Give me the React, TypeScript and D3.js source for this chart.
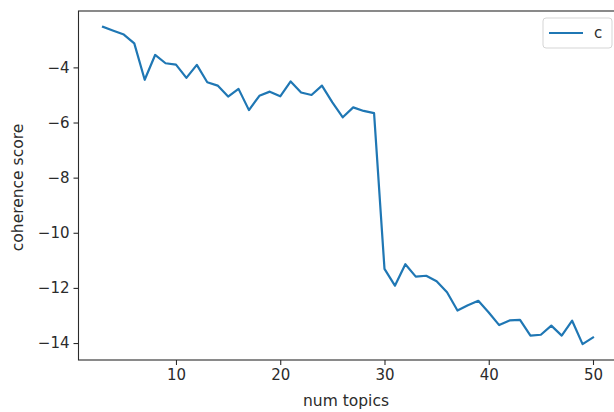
import React, { useRef, useEffect } from "react";
import * as d3 from "d3";

// number of topics tried
const numTopics: number[] = [
  3, 4, 5, 6, 7, 8, 9, 10, 11, 12, 13, 14, 15, 16, 17, 18, 19, 20, 21, 22, 23, 24, 25, 26,
  27, 28, 29, 30, 31, 32, 33, 34, 35, 36, 37, 38, 39, 40, 41, 42, 43, 44, 45, 46, 47, 48, 49, 50,
];

// coherence score for each run
const coherence: number[] = [
  -2.53, -2.67, -2.81, -3.13, -4.45, -3.55, -3.85, -3.9, -4.38, -3.91, -4.54, -4.66, -5.06,
  -4.78, -5.55, -5.03, -4.88, -5.05, -4.51, -4.91, -5.0, -4.66, -5.27, -5.81, -5.45, -5.58,
  -5.66, -11.31, -11.92, -11.14, -11.59, -11.56, -11.76, -12.16, -12.82, -12.63, -12.47,
  -12.89, -13.35, -13.18, -13.16, -13.73, -13.7, -13.37, -13.73, -13.19, -14.04, -13.8,
];

const xTicks = [10, 20, 30, 40, 50];
const yTicks = [-4, -6, -8, -10, -12, -14];
const legendLabel = "c";

const Chart = ({ width, height }: { width: number; height: number }) => {
  const svgRef = useRef<SVGSVGElement>(null);

  useEffect(() => {
    const svg = d3.select(svgRef.current);
    svg.selectAll("*").remove();

    // axes box (right side runs past the picture edge)
    const left = 78.5, top = 11, right = 617.5, bottom = 360;
    const font = "'DejaVu Sans', sans-serif";
    const ink = "#2b2b2b";

    const lo = d3.min(numTopics)!, hi = d3.max(numTopics)!;
    const xPad = (hi - lo) * 0.05;
    const x = d3.scaleLinear().domain([lo - xPad, hi + xPad]).range([left, right]);

    const yMin = d3.min(coherence)!, yMax = d3.max(coherence)!;
    const yPad = (yMax - yMin) * 0.05;
    const y = d3.scaleLinear().domain([yMin - yPad, yMax + yPad]).range([bottom, top]);

    svg.append("rect")
      .attr("width", width).attr("height", height).attr("fill", "#fff");

    // line
    const line = d3.line<number>()
      .x((_, i) => x(numTopics[i]))
      .y(d => y(d));
    svg.append("path")
      .datum(coherence)
      .attr("d", line)
      .attr("fill", "none")
      .attr("stroke", "#1f77b4")
      .attr("stroke-width", 2.2)
      .attr("stroke-linejoin", "round")
      .attr("stroke-linecap", "square");

    // x axis
    const xAxis = svg.append("g")
      .attr("transform", `translate(0,${bottom})`)
      .call(d3.axisBottom(x).tickValues(xTicks).tickSize(5).tickPadding(4).tickFormat(d3.format("d")));
    xAxis.select(".domain").remove();

    // y axis
    const yAxis = svg.append("g")
      .attr("transform", `translate(${left},0)`)
      .call(d3.axisLeft(y).tickValues(yTicks).tickSize(5).tickPadding(4)
        .tickFormat(d => String(d).replace("-", "\u2212")));
    yAxis.select(".domain").remove();

    [xAxis, yAxis].forEach(g => {
      g.selectAll("line").attr("stroke", ink).attr("stroke-width", 1.1);
      g.selectAll("text")
        .attr("fill", ink)
        .style("font-family", font)
        .style("font-size", "15px");
    });

    // spines
    svg.append("rect")
      .attr("x", left).attr("y", top)
      .attr("width", right - left).attr("height", bottom - top)
      .attr("fill", "none")
      .attr("stroke", ink)
      .attr("stroke-width", 1.1);

    // labels
    svg.append("text")
      .attr("x", (left + right) / 2 - 2)
      .attr("y", 406)
      .attr("text-anchor", "middle")
      .attr("fill", ink)
      .style("font-family", font)
      .style("font-size", "15.5px")
      .text("num topics");

    svg.append("text")
      .attr("transform", `translate(23,${(top + bottom) / 2 + 2}) rotate(-90)`)
      .attr("text-anchor", "middle")
      .attr("fill", ink)
      .style("font-family", font)
      .style("font-size", "15.5px")
      .text("coherence score");

    // legend
    const lg = svg.append("g").attr("transform", "translate(543,18)");
    lg.append("rect")
      .attr("width", 69).attr("height", 30).attr("rx", 3)
      .attr("fill", "#fff").attr("stroke", "#d5d5d5").attr("stroke-width", 1);
    lg.append("line")
      .attr("x1", 6).attr("x2", 40).attr("y1", 15).attr("y2", 15)
      .attr("stroke", "#1f77b4").attr("stroke-width", 2.2);
    lg.append("text")
      .attr("x", 51).attr("y", 20)
      .attr("fill", ink)
      .style("font-family", font)
      .style("font-size", "15px")
      .text(legendLabel);
  }, [width, height]);

  return <svg ref={svgRef} width={width} height={height} style={{ position: "absolute", left: 0, top: 0 }} />;
};

export default function App() {
  return <Chart width={614} height={412} />;
}
